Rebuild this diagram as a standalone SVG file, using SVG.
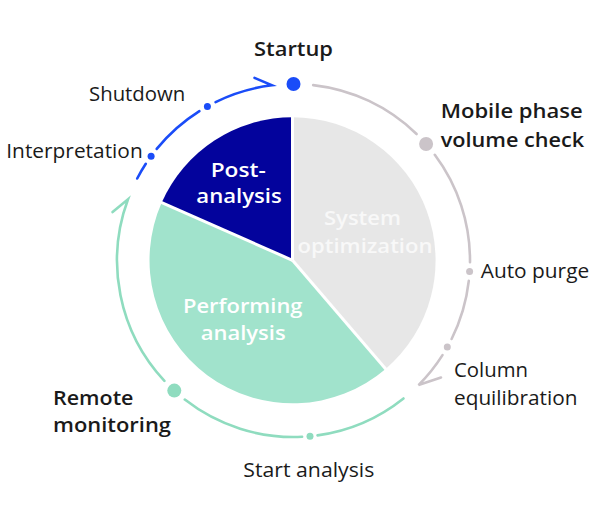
<svg xmlns="http://www.w3.org/2000/svg" width="600" height="508" viewBox="0 0 600 508">
<style>
.lbl{font-family:"Open Sans","Noto Sans","Liberation Sans",sans-serif;font-size:20.5px;fill:#1a1a1a}
.b{font-weight:600}
.pie{font-family:"Open Sans","Noto Sans","Liberation Sans",sans-serif;font-size:20.5px;font-weight:600;fill:#ffffff}
.arc{fill:none;stroke-width:2.6;stroke-linecap:round}
.blue{stroke:#1a4cf8}
.grey{stroke:#cbc4c9}
.teal{stroke:#8fdcbf}
.sep{stroke:#ffffff;stroke-width:3}
</style>
<rect width="600" height="508" fill="#ffffff"/>
<g id="pie">
<g id="system-optimization">
<path d="M292.5,260.3 L292.5,117.3 A143,143 0 0 1 385.6,368.9 Z" fill="#e7e7e7"/>
<text class="pie" x="324" y="225" textLength="77" lengthAdjust="spacingAndGlyphs" style="fill:#f8f8f8">System</text>
<text class="pie" x="297.5" y="253.3" textLength="135" lengthAdjust="spacingAndGlyphs" style="fill:#f8f8f8">optimization</text>
</g>
<g id="performing-analysis">
<path d="M292.5,260.3 L385.6,368.9 A143,143 0 0 1 161.7,202.6 Z" fill="#a1e3cc"/>
<text class="pie" x="183" y="313.3" textLength="119.5" lengthAdjust="spacingAndGlyphs">Performing</text>
<text class="pie" x="200.7" y="340" textLength="85" lengthAdjust="spacingAndGlyphs">analysis</text>
</g>
<g id="post-analysis">
<path d="M292.5,260.3 L161.7,202.6 A143,143 0 0 1 292.5,117.3 Z" fill="#03039c"/>
<text class="pie" x="210.7" y="176.7" textLength="55" lengthAdjust="spacingAndGlyphs">Post-</text>
<text class="pie" x="196.3" y="203.3" textLength="85.5" lengthAdjust="spacingAndGlyphs">analysis</text>
</g>
<line class="sep" x1="292.5" y1="260.3" x2="292.5" y2="115"/>
<line class="sep" x1="292.5" y1="260.3" x2="387" y2="370.5"/>
<line class="sep" x1="292.5" y1="260.3" x2="159.5" y2="201.6"/>
</g>
<g id="connectors">
<path class="arc blue" d="M137.2,178.5 A176.5,176.5 0 0 1 145.8,163.8"/>
<path class="arc blue" d="M156.7,148.9 A176.5,176.5 0 0 1 199.4,111.1"/>
<path class="arc blue" d="M215.6,102.1 A176.5,176.5 0 0 1 272,85.3 L254.5,77.9"/>
<path class="arc grey" d="M313.2,85.1 A176.5,176.5 0 0 1 416.6,134"/>
<path class="arc grey" d="M434.8,154.8 A176.5,176.5 0 0 1 470,262.3"/>
<path class="arc grey" d="M468.8,280.8 A176.5,176.5 0 0 1 451.6,339"/>
<path class="arc grey" d="M442.5,355.1 A176.5,176.5 0 0 1 418.5,385.1 L441,377.5"/>
<path class="arc teal" d="M403.5,398.5 A176.5,176.5 0 0 1 317.5,435.4"/>
<path class="arc teal" d="M302.1,436.8 A176.5,176.5 0 0 1 184.8,399.6"/>
<path class="arc teal" d="M164.4,380.9 A176.5,176.5 0 0 1 128,199.3 L112.6,212.1"/>
</g>
<g id="startup">
<circle cx="293.5" cy="84" r="7" fill="#1a4cf8"/>
<text class="lbl b" x="254" y="56" textLength="79" lengthAdjust="spacingAndGlyphs">Startup</text>
</g>
<g id="mobile-phase-volume-check">
<circle cx="426.1" cy="144" r="7" fill="#cbc4c9"/>
<text class="lbl b" x="440.7" y="117.5" textLength="142" lengthAdjust="spacingAndGlyphs">Mobile phase</text>
<text class="lbl b" x="440.7" y="147" textLength="143.5" lengthAdjust="spacingAndGlyphs">volume check</text>
</g>
<g id="auto-purge">
<circle cx="469.6" cy="271.6" r="3.5" fill="#cbc4c9"/>
<text class="lbl" x="480.7" y="278.3" textLength="108.5" lengthAdjust="spacingAndGlyphs">Auto purge</text>
</g>
<g id="column-equilibration">
<circle cx="447.3" cy="347.1" r="3.5" fill="#cbc4c9"/>
<text class="lbl" x="454" y="376.7" textLength="74" lengthAdjust="spacingAndGlyphs">Column</text>
<text class="lbl" x="454" y="405" textLength="123.5" lengthAdjust="spacingAndGlyphs">equilibration</text>
</g>
<g id="start-analysis">
<circle cx="310" cy="436.2" r="3.5" fill="#8fdcbf"/>
<text class="lbl" x="243.3" y="476.7" textLength="131" lengthAdjust="spacingAndGlyphs">Start analysis</text>
</g>
<g id="remote-monitoring">
<circle cx="174.3" cy="390.6" r="7" fill="#8fdcbf"/>
<text class="lbl b" x="53" y="405" textLength="80.5" lengthAdjust="spacingAndGlyphs">Remote</text>
<text class="lbl b" x="53" y="432" textLength="118" lengthAdjust="spacingAndGlyphs">monitoring</text>
</g>
<g id="interpretation">
<circle cx="151.1" cy="156.3" r="3.5" fill="#1a4cf8"/>
<text class="lbl" x="6.3" y="158.3" textLength="136.4" lengthAdjust="spacingAndGlyphs">Interpretation</text>
</g>
<g id="shutdown">
<circle cx="207.4" cy="106.4" r="3.5" fill="#1a4cf8"/>
<text class="lbl" x="89" y="100.7" textLength="96.3" lengthAdjust="spacingAndGlyphs">Shutdown</text>
</g>
</svg>
